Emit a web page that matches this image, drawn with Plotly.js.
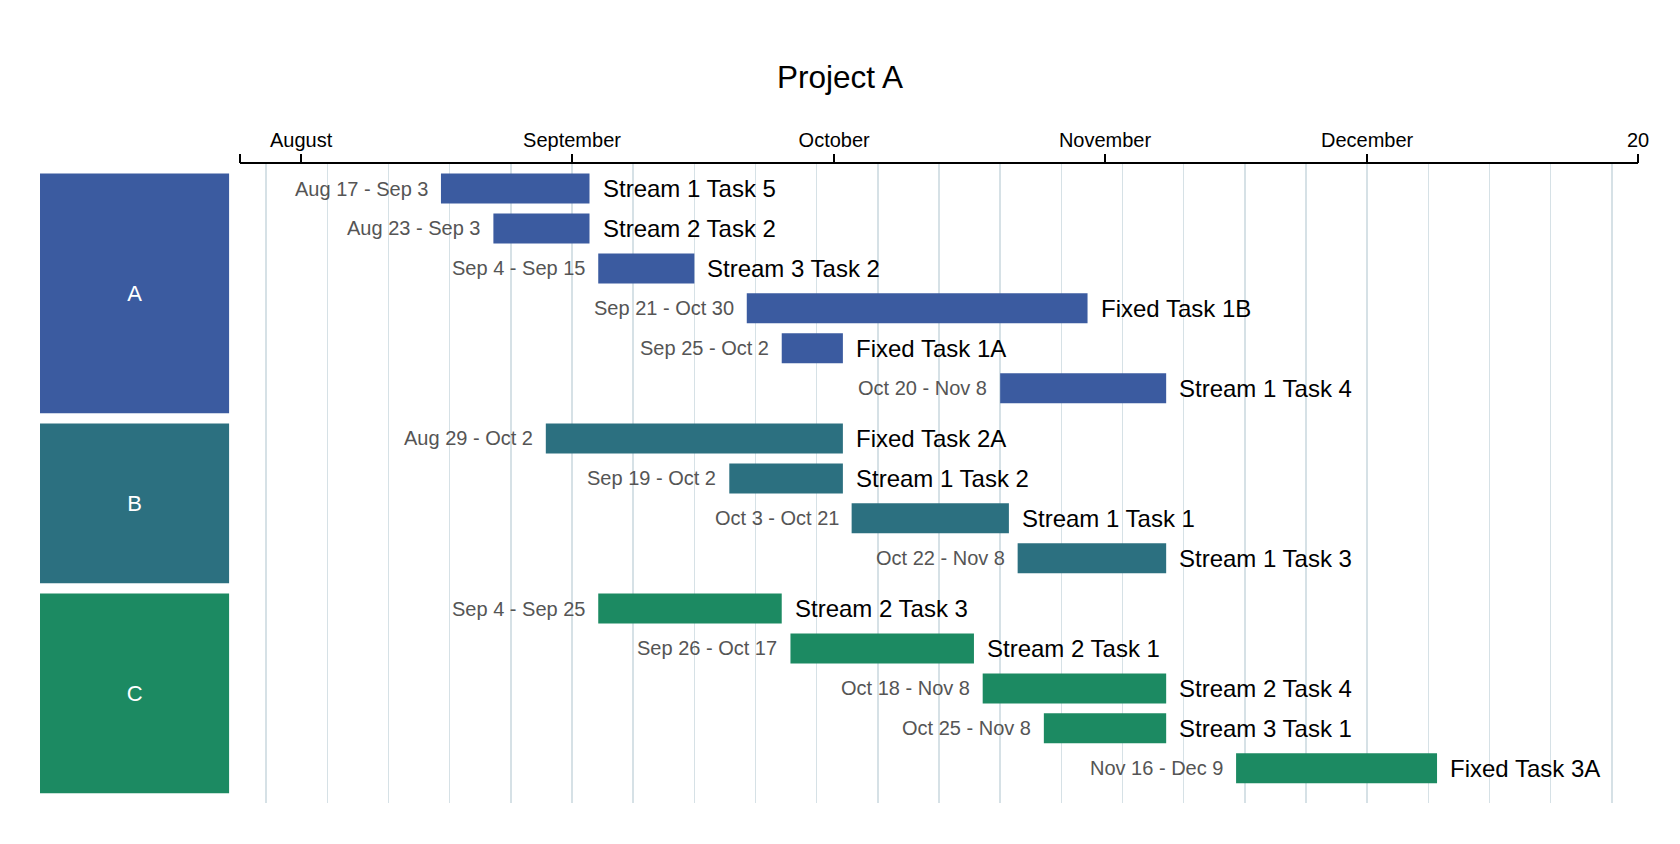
<!DOCTYPE html>
<html>
<head>
<meta charset="utf-8">
<script src="https://cdn.plot.ly/plotly-3.0.1.min.js"></script>
<style>
  html, body { margin: 0; padding: 0; background: #ffffff; }
  #chart { width: 1680px; height: 844px; }
</style>
</head>
<body>
<div id="chart"></div>
<script>
// ---------------- DATA ----------------
var chartTitle = 'Project A';

var groupNames = ['A', 'B', 'C'];
var groupColors = ['#3b5ba0', '#2c7080', '#1c8a62'];

var taskNames = [
  'Stream 1 Task 5', 'Stream 2 Task 2', 'Stream 3 Task 2', 'Fixed Task 1B', 'Fixed Task 1A', 'Stream 1 Task 4',
  'Fixed Task 2A', 'Stream 1 Task 2', 'Stream 1 Task 1', 'Stream 1 Task 3',
  'Stream 2 Task 3', 'Stream 2 Task 1', 'Stream 2 Task 4', 'Stream 3 Task 1', 'Fixed Task 3A'
];
var taskGroups = ['A', 'A', 'A', 'A', 'A', 'A', 'B', 'B', 'B', 'B', 'C', 'C', 'C', 'C', 'C'];
var startDates = [
  '2019-08-17', '2019-08-23', '2019-09-04', '2019-09-21', '2019-09-25', '2019-10-20',
  '2019-08-29', '2019-09-19', '2019-10-03', '2019-10-22',
  '2019-09-04', '2019-09-26', '2019-10-18', '2019-10-25', '2019-11-16'
];
var endDates = [
  '2019-09-03', '2019-09-03', '2019-09-15', '2019-10-30', '2019-10-02', '2019-11-08',
  '2019-10-02', '2019-10-02', '2019-10-21', '2019-11-08',
  '2019-09-25', '2019-10-17', '2019-11-08', '2019-11-08', '2019-12-09'
];

var axisRange = ['2019-07-25', '2020-01-01'];
var tickDates = ['2019-07-25', '2019-08-01', '2019-09-01', '2019-10-01', '2019-11-01', '2019-12-01', '2020-01-01'];
var tickLabels = ['', 'August', 'September', 'October', 'November', 'December', '20'];
var gridStart = '2019-07-28';

// ---------------- HELPERS ----------------
var FONT = '"Liberation Sans", Arial, Helvetica, sans-serif';
var MONTHS = ['Jan','Feb','Mar','Apr','May','Jun','Jul','Aug','Sep','Oct','Nov','Dec'];
var DAY = 86400000;
var GROUP_GAP = 0.26;

function fmt(d) {
  var dt = new Date(d + 'T00:00:00Z');
  return MONTHS[dt.getUTCMonth()] + ' ' + dt.getUTCDate();
}

// row positions (one unit per row, extra gap between groups)
var rowY = [];
taskGroups.forEach(function (g, i) {
  rowY.push(i + groupNames.indexOf(g) * GROUP_GAP);
});

var durations = startDates.map(function (s, i) {
  return Date.parse(endDates[i] + 'T00:00:00Z') - Date.parse(s + 'T00:00:00Z');
});
var barColors = taskGroups.map(function (g) { return groupColors[groupNames.indexOf(g)]; });

// group boxes
var boxCenters = [], boxHeights = [];
groupNames.forEach(function (g) {
  var ys = rowY.filter(function (y, i) { return taskGroups[i] === g; });
  var top = ys[0] - 0.375;
  boxCenters.push(top + ys.length / 2);
  boxHeights.push(ys.length);
});

var lastY = rowY[rowY.length - 1];
var firstY = rowY[0];

// ---------------- TRACES ----------------
var taskBars = {
  type: 'bar',
  orientation: 'h',
  x: durations,
  base: startDates,
  y: rowY,
  width: 0.75,
  marker: { color: barColors, line: { width: 0 } },
  xaxis: 'x', yaxis: 'y',
  hoverinfo: 'skip',
  showlegend: false
};

var groupBoxes = {
  type: 'bar',
  orientation: 'h',
  x: groupNames.map(function () { return 1; }),
  base: 0,
  y: boxCenters,
  width: boxHeights,
  text: groupNames,
  textposition: 'inside',
  insidetextanchor: 'middle',
  textangle: 0,
  textfont: { color: '#ffffff', size: 22, family: FONT },
  marker: { color: groupColors, line: { width: 0 } },
  xaxis: 'x3', yaxis: 'y',
  hoverinfo: 'skip',
  showlegend: false
};

var gridHolder = {
  type: 'scatter',
  mode: 'markers',
  x: axisRange,
  y: [firstY, firstY],
  marker: { opacity: 0 },
  xaxis: 'x2', yaxis: 'y',
  hoverinfo: 'skip',
  showlegend: false
};

var tickHolder = {
  type: 'scatter',
  mode: 'markers',
  x: axisRange,
  y: [firstY, firstY],
  marker: { opacity: 0 },
  xaxis: 'x4', yaxis: 'y',
  hoverinfo: 'skip',
  showlegend: false
};

// ---------------- ANNOTATIONS ----------------
var annotations = [];
taskNames.forEach(function (name, i) {
  annotations.push({
    x: startDates[i], y: rowY[i], xref: 'x', yref: 'y',
    text: fmt(startDates[i]) + ' - ' + fmt(endDates[i]),
    showarrow: false, xanchor: 'right', yanchor: 'middle', xshift: -11,
    font: { family: FONT, size: 20, color: '#555555' }
  });
  annotations.push({
    x: endDates[i], y: rowY[i], xref: 'x', yref: 'y',
    text: name,
    showarrow: false, xanchor: 'left', yanchor: 'middle', xshift: 11,
    font: { family: FONT, size: 24, color: '#000000' }
  });
});

// ---------------- LAYOUT ----------------
var mainDomain = [200 / 1598, 1];
var layout = {
  width: 1680,
  height: 844,
  paper_bgcolor: '#ffffff',
  plot_bgcolor: 'rgba(0,0,0,0)',
  margin: { l: 40, r: 42, t: 164, b: 41, pad: 0 },
  font: { family: FONT, color: '#000000' },
  title: {
    text: chartTitle,
    font: { family: FONT, size: 31.5, color: '#000000' },
    x: 0.5, xref: 'container', xanchor: 'center',
    y: 1 - 77 / 844, yref: 'container', yanchor: 'middle'
  },
  barmode: 'overlay',
  showlegend: false,
  xaxis: {
    type: 'date',
    domain: mainDomain,
    range: axisRange,
    side: 'top',
    anchor: 'y',
    tickmode: 'array',
    tickvals: tickDates,
    ticktext: tickLabels,
    ticks: 'outside',
    ticklen: 7,
    tickwidth: 1,
    tickcolor: 'rgba(0,0,0,0)',
    tickfont: { family: FONT, size: 20, color: '#000000' },
    showline: true,
    linewidth: 2,
    linecolor: '#000000',
    showgrid: false,
    zeroline: false,
    fixedrange: true
  },
  xaxis2: {
    type: 'date',
    overlaying: 'x',
    side: 'top',
    anchor: 'y',
    range: axisRange,
    tickmode: 'linear',
    tick0: gridStart,
    dtick: 7 * DAY,
    showgrid: true,
    gridcolor: '#d6e1e6',
    gridwidth: 1.5,
    showticklabels: false,
    ticks: '',
    showline: false,
    zeroline: false,
    fixedrange: true
  },
  xaxis3: {
    domain: [0, 189.3 / 1598],
    range: [0, 1],
    anchor: 'y',
    visible: false,
    showgrid: false,
    zeroline: false,
    fixedrange: true
  },
  xaxis4: {
    type: 'date',
    overlaying: 'x',
    side: 'top',
    anchor: 'y',
    range: axisRange,
    tickmode: 'array',
    tickvals: tickDates,
    ticks: 'outside',
    ticklen: 9,
    tickwidth: 1.5,
    tickcolor: '#000000',
    showticklabels: false,
    showgrid: false,
    showline: false,
    zeroline: false,
    fixedrange: true
  },
  yaxis: {
    range: [lastY + 0.87, firstY - 0.615],
    visible: false,
    showgrid: false,
    zeroline: false,
    fixedrange: true
  },
  annotations: annotations
};

Plotly.newPlot('chart', [gridHolder, tickHolder, groupBoxes, taskBars], layout, { displayModeBar: false, staticPlot: true });
</script>
</body>
</html>
